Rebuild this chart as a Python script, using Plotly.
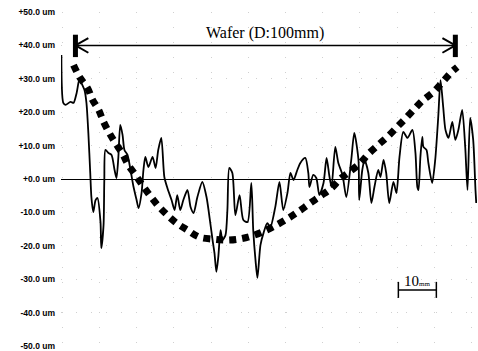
import plotly.graph_objects as go

# Measured profile (position in mm, height in um)
profile_x = [-3.7, -3.2, -2.6, -1.3, -0.5, 0.3, 1.1, 1.6, 2.4, 2.9, 3.4, 3.9, 4.2, 4.7, 5.3, 5.8, 6.6, 6.8,
             7.4, 7.6, 7.9, 8.7, 9.5, 10.3, 10.8, 11.3, 11.8, 12.4, 12.9, 13.7, 14.5, 15.3, 16.1, 16.6,
             17.4, 17.9, 18.4, 19.2, 20.3, 21.1, 21.8, 22.6, 23.4, 24.2, 25.3, 26.1, 26.8, 27.6, 28.4,
             29.5, 30.3, 31.1, 32.1, 33.4, 34.5, 35.5, 36.1, 36.6, 37.1, 37.6, 38.2, 38.7, 39.5, 40.0,
             40.5, 41.3, 42.1, 43.2, 44.2, 45.3, 46.3, 46.8, 47.4, 47.9, 48.7, 49.5, 50.5, 51.3, 52.6,
             53.7, 54.7, 55.8, 56.6, 57.4, 58.4, 59.2, 60.5, 61.3, 61.6, 62.6, 63.4, 64.2, 65.3, 66.1,
             66.8, 67.4, 68.4, 69.2, 70.3, 71.3, 72.6, 73.4, 74.5, 74.7, 75.5, 76.1, 77.1, 77.9, 78.7,
             79.7, 80.3, 81.1, 81.8, 82.6, 83.7, 84.5, 85.3, 86.3, 87.4, 88.7, 89.5, 90.0, 90.3, 90.8,
             91.3, 91.6, 92.4, 92.9, 93.9, 94.7, 95.5, 96.1, 96.8, 97.4, 98.2, 99.2, 100.0, 100.8,
             101.8, 102.6, 103.2, 103.9, 104.7, 105.3, 105.5]
profile_y = [37.1, 22.8, 22.2, 23.1, 22.8, 25.7, 30.2, 28.7, 26.6, 22.8, 13.8, 1.8, -5.4, -9.9, -6.3, -5.7,
             -12.9, -20.7, -13.8, -0.3, 8.7, 7.8, 7.2, 2.7, 0.3, 6.6, 16.2, 13.2, 8.7, 7.2, 2.7, -2.4,
             -6.3, -8.7, -4.2, 2.7, 6.6, 3.6, 6.6, 3.3, 8.7, 12.3, 0.6, -2.7, -6.3, -9.3, -4.8, -9.3,
             -6.3, -3.3, -8.4, -10.2, -5.4, -0.9, -5.4, -13.2, -18.3, -22.2, -27.8, -23.4, -15.3, -18.3,
             -16.8, -9.3, 3.3, 1.8, -10.8, -4.8, -12.3, -12.9, -1.2, -15.3, -24.3, -29.6, -19.8, -16.2,
             -13.2, -14.4, -8.4, -0.9, -9.3, -4.2, 1.8, -0.3, 2.7, 4.8, 6.3, 1.8, -2.4, 1.2, 0.3, -4.8,
             -1.2, 6.3, 1.2, -2.4, 9.6, 4.8, 1.2, -5.4, 5.7, 13.8, 5.7, -6.3, 2.7, 5.7, 1.8, -7.2, -2.4,
             2.7, 0.6, 5.7, 1.8, -7.2, -0.9, -4.2, 6.6, 14.1, 12.3, 14.7, 7.8, -2.4, -3.3, 6.6, 12.6,
             9.6, 8.7, 4.8, -1.2, 5.7, 18.6, 29.6, 21.6, 14.7, 12.3, 17.1, 11.7, 14.7, 20.7, 9.6, -3.3,
             18.3, 11.7, -3.3, -7.2]

# Bow (warp) fit curve
bow_x = [-0.5, 1.1, 3.2, 4.5, 6.1, 7.4, 8.9, 10.5, 12.4, 13.9, 15.8, 17.6, 19.5, 21.6, 23.9, 26.6, 29.5,
         32.6, 36.1, 39.5, 42.9, 46.3, 49.7, 52.9, 56.1, 58.9, 61.8, 64.5, 67.4, 69.7, 72.1, 75.0, 77.1,
         79.7, 82.1, 84.7, 86.8, 89.5, 91.6, 94.2, 96.6, 98.7, 100.5]
bow_y = [34.1, 30.5, 27.2, 23.7, 20.7, 17.1, 13.8, 10.8, 7.5, 4.2, 1.2, -1.8, -4.8, -7.8, -10.5, -13.2,
         -15.3, -17.4, -18.0, -18.3, -18.0, -17.1, -15.6, -13.8, -11.7, -9.6, -7.2, -5.1, -2.7, 0.0, 2.1,
         4.8, 7.5, 10.2, 12.6, 15.6, 18.0, 21.3, 23.7, 26.0, 29.0, 31.7, 33.5]

tick_vals = [50, 40, 30, 20, 10, 0, -10, -20, -30, -40, -50]
tick_text = ["+50.0 um", "+40.0 um", "+30.0 um", "+20.0 um", "+10.0 um", "+0.0 um",
             "-10.0 um", "-20.0 um", "-30.0 um", "-40.0 um", "-50.0 um"]

wafer_start, wafer_end, wafer_y = 0, 100, 40
wafer_label = "Wafer (D:100mm)"
scale_start, scale_end, scale_y = 85, 95, -33.2
scale_label = "10<span style='font-size:7px'>mm</span>"

fig = go.Figure()
fig.add_trace(go.Scatter(x=bow_x, y=bow_y, mode="lines",
                         line=dict(color="black", width=7, dash="7px,6px", shape="spline"),
                         hoverinfo="skip", showlegend=False))
fig.add_trace(go.Scatter(x=profile_x, y=profile_y, mode="lines",
                         line=dict(color="black", width=1.8, shape="spline", smoothing=0.7),
                         showlegend=False))

shapes = []
# wafer diameter arrow
shapes.append(dict(type="line", xref="x", yref="y", x0=wafer_start, x1=wafer_end, y0=wafer_y, y1=wafer_y,
                   line=dict(color="black", width=1.5)))
for xe, sgn in [(wafer_start, 1), (wafer_end, -1)]:
    shapes.append(dict(type="line", xref="x", yref="y", x0=xe, x1=xe, y0=wafer_y - 3.5, y1=wafer_y + 3.2,
                       line=dict(color="black", width=5)))
    for dy in (2.2, -2.2):
        shapes.append(dict(type="line", xref="x", yref="y", x0=xe, x1=xe + sgn * 3.4,
                           y0=wafer_y, y1=wafer_y + dy, line=dict(color="black", width=2)))
# scale bar
shapes.append(dict(type="line", xref="x", yref="y", x0=scale_start, x1=scale_end, y0=scale_y, y1=scale_y,
                   line=dict(color="black", width=1.5)))
for xe in (scale_start, scale_end):
    shapes.append(dict(type="line", xref="x", yref="y", x0=xe, x1=xe, y0=scale_y - 2.4, y1=scale_y + 2.4,
                       line=dict(color="black", width=1.5)))

fig.update_layout(
    width=478, height=351,
    margin=dict(l=61, r=1, t=12, b=5),
    paper_bgcolor="white", plot_bgcolor="white",
    shapes=shapes,
    annotations=[
        dict(x=(wafer_start + wafer_end) / 2, y=wafer_y, xref="x", yref="y", text=wafer_label,
             showarrow=False, yanchor="bottom", yshift=1,
             font=dict(family="Liberation Serif", size=16, color="black")),
        dict(x=(scale_start + scale_end) / 2, y=scale_y, xref="x", yref="y", text=scale_label,
             showarrow=False, yanchor="bottom", yshift=-1,
             font=dict(family="Liberation Serif", size=15, color="black")),
    ],
    xaxis=dict(range=[-3.8, 105.7], showticklabels=False, ticks="", zeroline=False,
               showgrid=True, gridcolor="#d0d0d0", griddash="1px,14px", gridwidth=1,
               tick0=6.3, dtick=9.8, showline=False),
    yaxis=dict(range=[-50, 50], tickvals=tick_vals, ticktext=tick_text, ticks="",
               ticklabelstandoff=5, ticklabeloverflow="allow",
               tickfont=dict(family="Liberation Sans", size=8.5, color="black", weight="bold"),
               showgrid=True, gridcolor="#d0d0d0", griddash="1px,14px", gridwidth=1,
               zeroline=True, zerolinecolor="black", zerolinewidth=1.2, showline=False),
)

fig.write_html("out.html")
